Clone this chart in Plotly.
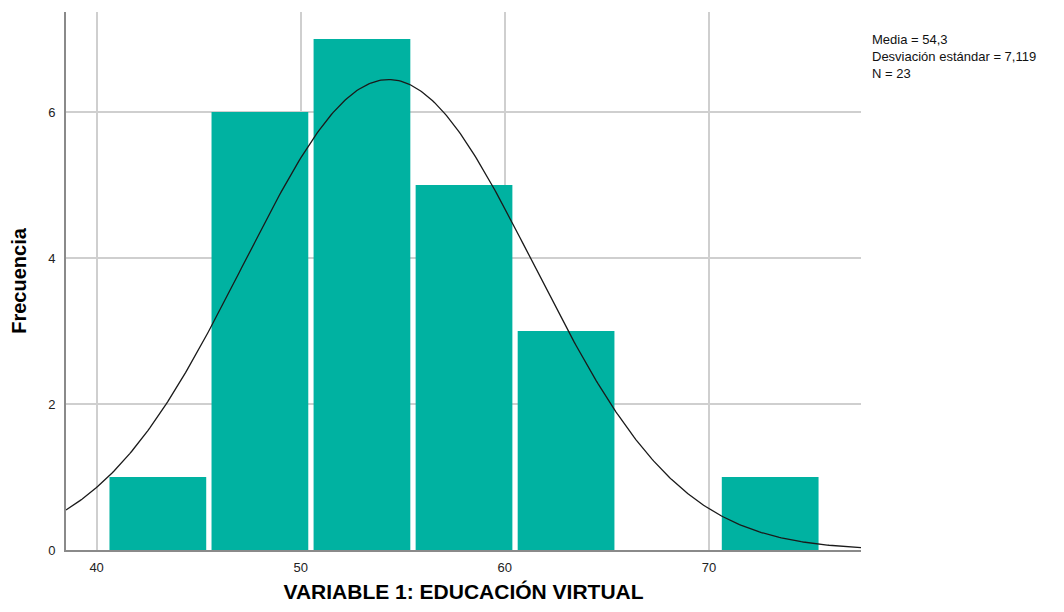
import numpy as np
import plotly.graph_objects as go

# Data
bin_centers = [43, 48, 53, 58, 63, 73]
frequencies = [1, 6, 7, 5, 3, 1]
bin_width = 5
mean_val = 54.3
sd_val = 7.119
n_val = 23
x_ticks = [40, 50, 60, 70]
y_ticks = [0, 2, 4, 6]
stats_lines = ["Media = 54,3", "Desviación estándar = 7,119", "N = 23"]

x_range = [38.5, 77.45]
y_range = [0, 7.37]

xs = np.linspace(x_range[0], x_range[1], 400)
ys = n_val * bin_width / (sd_val * np.sqrt(2 * np.pi)) * np.exp(-0.5 * ((xs - mean_val) / sd_val) ** 2)

fig = go.Figure()
fig.add_trace(go.Bar(
    x=bin_centers, y=frequencies, width=[bin_width * 0.948] * len(bin_centers),
    marker=dict(color="#00B2A1", line=dict(width=0)),
    hoverinfo="x+y", showlegend=False,
))
fig.add_trace(go.Scatter(
    x=xs, y=ys, mode="lines", line=dict(color="#1a1a1a", width=1.3),
    showlegend=False, hoverinfo="skip",
))

fig.update_layout(
    width=1064, height=612,
    margin=dict(l=66, r=203, t=12, b=62),
    paper_bgcolor="white", plot_bgcolor="white",
    font=dict(family="Liberation Sans, Arial, sans-serif", color="#222"),
    xaxis=dict(
        range=x_range, tickvals=x_ticks, showgrid=True, gridcolor="#cfcfcf", gridwidth=1.5,
        showline=True, linecolor="#8a8a8a", linewidth=2, zeroline=False, ticks="",
        tickfont=dict(size=13, color="#222"), ticklabelstandoff=4,
        title=dict(text="<b>VARIABLE 1: EDUCACIÓN VIRTUAL</b>", font=dict(size=21, color="#000"), standoff=11),
    ),
    yaxis=dict(
        range=y_range, tickvals=y_ticks, showgrid=True, gridcolor="#cfcfcf", gridwidth=1.5,
        showline=True, linecolor="#8a8a8a", linewidth=2, zeroline=False, ticks="",
        tickfont=dict(size=13, color="#222"), ticklabelstandoff=6,
        title=dict(text="<b>Frecuencia</b>", font=dict(size=20, color="#000"), standoff=16),
    ),
    annotations=[dict(
        xref="paper", yref="paper", x=1.0, y=1.0, xanchor="left", yanchor="middle",
        xshift=9, yshift=-44,
        text="<br>".join(stats_lines), showarrow=False, align="left",
        font=dict(size=13, color="#111"),
    )],
)

fig.write_html("out.html")
